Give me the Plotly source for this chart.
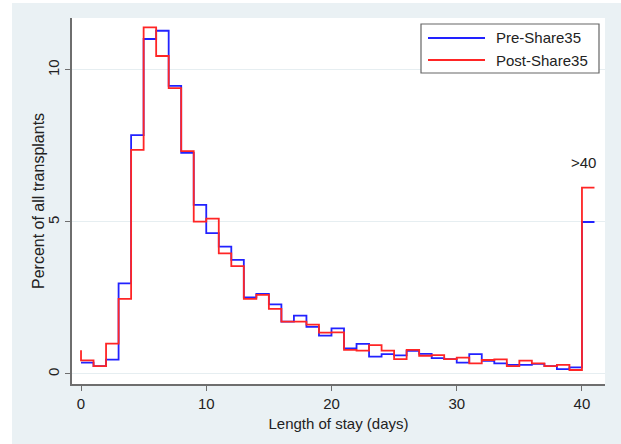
import plotly.graph_objects as go

# x positions of step points (segment i-1..i drawn at level of point i)
days = list(range(0, 42))

pre_share35 = [0.37, 0.37, 0.26, 0.47, 2.98, 7.86, 11.02, 11.29, 9.48, 7.27,
               5.56, 4.63, 4.19, 3.75, 2.52, 2.63, 2.29, 1.72, 1.92, 1.55,
               1.26, 1.50, 0.84, 0.99, 0.57, 0.65, 0.61, 0.76, 0.66, 0.52,
               0.49, 0.37, 0.65, 0.43, 0.35, 0.30, 0.30, 0.33, 0.26, 0.16,
               0.22, 5.00]

post_share35 = [0.78, 0.45, 0.26, 1.00, 2.47, 7.37, 11.40, 10.46, 9.40, 7.33,
                5.01, 5.11, 3.97, 3.55, 2.47, 2.60, 2.14, 1.72, 1.72, 1.62,
                1.36, 1.37, 0.79, 0.77, 0.95, 0.77, 0.49, 0.79, 0.60, 0.62,
                0.49, 0.54, 0.35, 0.46, 0.48, 0.26, 0.44, 0.35, 0.26, 0.30,
                0.13, 6.13]

series_names = ["Pre-Share35", "Post-Share35"]
series_colors = ["#2222ff", "#ff2525"]

x_ticks = [0, 10, 20, 30, 40]
y_ticks = [0, 5, 10]

BG = "#eaf1f4"
W, H = 621, 444
L, R, T, B = 72, 16, 18, 60
PW, PH = W - L - R, H - T - B


def px(x):
    return (x - L) / PW


def py(y):
    return (H - B - y) / PH


fig = go.Figure()
for name, vals, col in zip(series_names, [pre_share35, post_share35], series_colors):
    fig.add_trace(go.Scatter(x=days, y=vals, mode="lines", line_shape="vh",
                             name=name, showlegend=False,
                             line=dict(color=col, width=1.8)))

fig.add_annotation(x=40.1, y=6.97, text="&gt;40", showarrow=False,
                   font=dict(size=15, color="#222"), xref="x", yref="y")

# y-axis title
fig.add_annotation(xref="paper", yref="paper", x=px(38), y=0.5,
                   text="Percent of all transplants", textangle=-90, showarrow=False,
                   xanchor="center", yanchor="middle", font=dict(size=16, color="#222"))

shapes = [
    dict(type="rect", xref="paper", yref="paper", x0=px(0), x1=px(12),
         y0=py(H), y1=py(0), fillcolor="white", line=dict(width=0), layer="below"),
    dict(type="rect", xref="paper", yref="paper", x0=px(0), x1=px(W),
         y0=py(3), y1=py(0), fillcolor="white", line=dict(width=0), layer="below"),
    # legend box
    dict(type="rect", xref="paper", yref="paper", x0=px(421), x1=px(599),
         y0=py(73), y1=py(24), fillcolor="white", line=dict(color="#666", width=1.2)),
]
for i, (name, col) in enumerate(zip(series_names, series_colors)):
    yy = 38 + 22 * i
    shapes.append(dict(type="line", xref="paper", yref="paper", x0=px(428), x1=px(485),
                       y0=py(yy), y1=py(yy), line=dict(color=col, width=1.8)))
    fig.add_annotation(xref="paper", yref="paper", x=px(494), y=py(yy), text=name,
                       showarrow=False, xanchor="left", yanchor="middle",
                       font=dict(size=15, color="#222"))

axis_common = dict(showline=True, linecolor="#6e6e6e", linewidth=1.5,
                   ticks="outside", ticklen=5, tickcolor="#6e6e6e", tickwidth=1.2,
                   zeroline=False, tickfont=dict(size=15, color="#222"))

fig.update_layout(
    width=W, height=H,
    margin=dict(l=L, r=R, t=T, b=B),
    paper_bgcolor=BG, plot_bgcolor="white",
    font=dict(family="Liberation Sans, Arial, sans-serif", size=15, color="#222"),
    showlegend=False,
    xaxis=dict(range=[-0.72, 41.84], tickvals=x_ticks, showgrid=False,
               title=dict(text="Length of stay (days)", standoff=8, font=dict(size=15)),
               **axis_common),
    yaxis=dict(range=[-0.33, 11.71], tickvals=y_ticks, showgrid=True,
               gridcolor="#e6eef1", gridwidth=1, tickangle=-90,
               **axis_common),
    shapes=shapes,
)

fig.write_html("out.html")
